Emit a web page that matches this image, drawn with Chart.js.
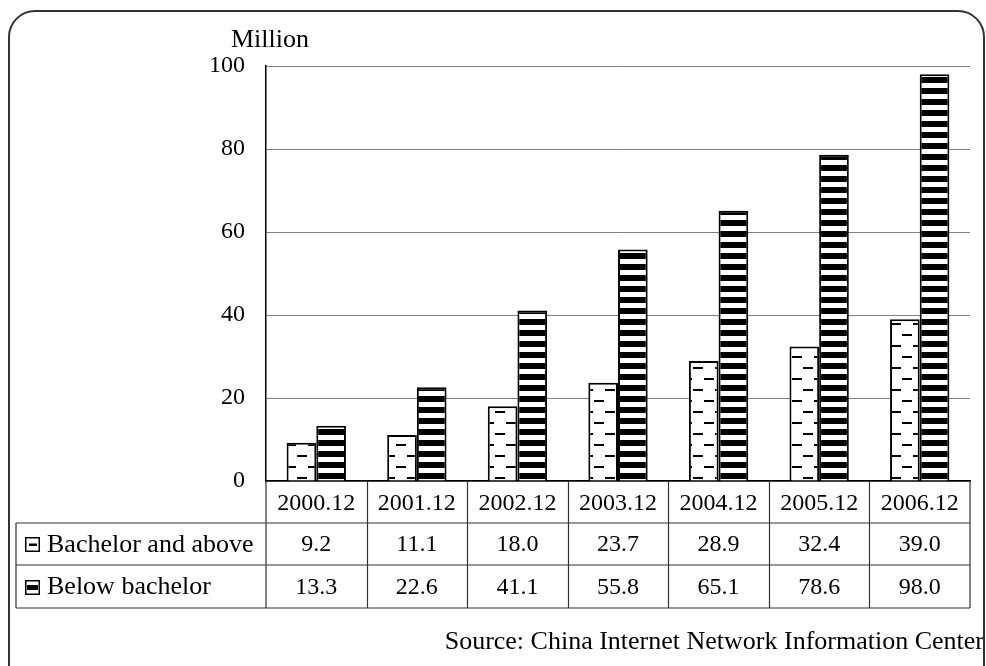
<!DOCTYPE html>
<html>
<head>
<meta charset="utf-8">
<script src="https://cdn.jsdelivr.net/npm/chart.js@4.4.1/dist/chart.umd.min.js"></script>
<style>
  html, body { margin: 0; padding: 0; background: #fff; }
  canvas { display: block; }
</style>
</head>
<body>
<canvas id="c" width="986" height="666"></canvas>
<script>
// Internet users in China by education level (millions)
const categories = ['2000.12', '2001.12', '2002.12', '2003.12', '2004.12', '2005.12', '2006.12'];
const bachelorAndAbove = [9.2, 11.1, 18.0, 23.7, 28.9, 32.4, 39.0];
const belowBachelor = [13.3, 22.6, 41.1, 55.8, 65.1, 78.6, 98.0];
const seriesNames = ['Bachelor and above', 'Below bachelor'];
const yTicks = [0, 20, 40, 60, 80, 100];
const unitLabel = 'Million';
const sourceNote = 'Source: China Internet Network Information Center';

const FONT = "'Liberation Serif', 'Times New Roman', serif";
const NUM_SIZE = 24;
const TEXT_SIZE = 26;

// Fill patterns: short staggered dashes and horizontal stripes
function dashPattern(ctx) {
  const t = document.createElement('canvas');
  t.width = 22; t.height = 22;
  const g = t.getContext('2d');
  g.fillStyle = '#fff'; g.fillRect(0, 0, 22, 22);
  g.fillStyle = '#000';
  g.fillRect(0, 4, 10, 2);
  g.fillRect(11, 15, 10, 2);
  return ctx.createPattern(t, 'repeat');
}
function stripePattern(ctx) {
  const t = document.createElement('canvas');
  t.width = 8; t.height = 11;
  const g = t.getContext('2d');
  g.fillStyle = '#fff'; g.fillRect(0, 0, 8, 11);
  g.fillStyle = '#000'; g.fillRect(0, 0, 8, 6);
  return ctx.createPattern(t, 'repeat');
}

const canvas = document.getElementById('c');
const ctx = canvas.getContext('2d');
const fills = [dashPattern(ctx), stripePattern(ctx)];

function drawIcon(g, x, y, kind) {
  g.save();
  g.strokeStyle = '#000';
  g.lineWidth = 1.5;
  g.fillStyle = '#fff';
  g.fillRect(x, y, 15, 15);
  g.strokeRect(x + 0.75, y + 0.75, 13.5, 13.5);
  g.fillStyle = '#000';
  if (kind === 0) g.fillRect(x + 4, y + 6.5, 8, 2.5);
  else g.fillRect(x + 2, y + 5, 11, 5);
  g.restore();
}

const tablePlugin = {
  id: 'dataTable',
  afterDraw(chart) {
    const g = chart.ctx;
    const xs = chart.scales.x;
    const area = chart.chartArea;
    const left = area.left, right = area.right, top = area.bottom;
    const rowH = [42, 42, 43];
    const r1 = top + rowH[0], r2 = r1 + rowH[1], r3 = r2 + rowH[2];
    const tableLeft = 16;

    g.save();
    g.strokeStyle = '#333';
    g.lineWidth = 1.2;
    g.beginPath();
    // horizontal rules
    [r1, r2, r3].forEach(y => { g.moveTo(tableLeft, y); g.lineTo(right, y); });
    // outer verticals
    g.moveTo(tableLeft, r1); g.lineTo(tableLeft, r3);
    g.moveTo(left, top); g.lineTo(left, r3);
    g.moveTo(right, top); g.lineTo(right, r3);
    // category boundaries
    for (let i = 0; i < categories.length - 1; i++) {
      const bx = Math.round((xs.getPixelForValue(i) + xs.getPixelForValue(i + 1)) / 2) + 0.5;
      g.moveTo(bx, top); g.lineTo(bx, r3);
    }
    g.stroke();

    g.fillStyle = '#000';
    g.textBaseline = 'middle';
    // row headers
    const rowsY = [(r1 + r2) / 2, (r2 + r3) / 2];
    g.font = TEXT_SIZE + 'px ' + FONT;
    seriesNames.forEach((name, k) => {
      drawIcon(g, 25, Math.round(rowsY[k]) - 7, k);
      g.textAlign = 'left';
      g.fillText(name, 47, rowsY[k] + 1);
    });
    // values
    g.font = NUM_SIZE + 'px ' + FONT;
    const rows = [bachelorAndAbove, belowBachelor];
    rows.forEach((vals, k) => {
      g.textAlign = 'center';
      vals.forEach((v, i) => g.fillText(v.toFixed(1), xs.getPixelForValue(i), rowsY[k] + 1));
    });

    // unit label above axis
    g.font = TEXT_SIZE + 'px ' + FONT;
    g.textAlign = 'center';
    g.fillText(unitLabel, 270, 40);

    // source note
    g.textAlign = 'right';
    g.fillText(sourceNote, 984, 642);

    // rounded frame
    g.strokeStyle = '#333';
    g.lineWidth = 2;
    const fx0 = 9, fy0 = 11, fx1 = 984, rad = 26;
    g.beginPath();
    g.moveTo(fx0, 680);
    g.lineTo(fx0, fy0 + rad);
    g.arcTo(fx0, fy0, fx0 + rad, fy0, rad);
    g.lineTo(fx1 - rad, fy0);
    g.arcTo(fx1, fy0, fx1, fy0 + rad, rad);
    g.lineTo(fx1, 680);
    g.stroke();
    g.restore();
  }
};

Chart.defaults.font.family = FONT;
Chart.defaults.font.size = NUM_SIZE;
Chart.defaults.color = '#000';

new Chart(ctx, {
  type: 'bar',
  data: {
    labels: categories,
    datasets: [
      { label: seriesNames[0], data: bachelorAndAbove, backgroundColor: fills[0], borderColor: '#000', borderWidth: 2 },
      { label: seriesNames[1], data: belowBachelor, backgroundColor: fills[1], borderColor: '#000', borderWidth: 2 }
    ]
  },
  options: {
    responsive: false,
    animation: false,
    devicePixelRatio: 1,
    layout: { padding: { top: 66, right: 16, bottom: 143, left: 0 } },
    plugins: { legend: { display: false }, tooltip: { enabled: false } },
    datasets: { bar: { categoryPercentage: 0.59, barPercentage: 1 } },
    scales: {
      x: {
        grid: { display: false, drawTicks: false },
        border: { color: '#000', width: 1.5 },
        ticks: { padding: 8, font: { size: NUM_SIZE } },
        afterFit(s) { s.height = 42; }
      },
      y: {
        min: 0, max: 100,
        afterBuildTicks(s) { s.ticks = yTicks.map(v => ({ value: v })); },
        grid: { color: '#808080', lineWidth: 1, drawTicks: false },
        border: { color: '#000', width: 1.5 },
        ticks: { padding: 21, font: { size: NUM_SIZE } },
        afterFit(s) { s.width = 266; }
      }
    }
  },
  plugins: [tablePlugin]
});
</script>
</body>
</html>
